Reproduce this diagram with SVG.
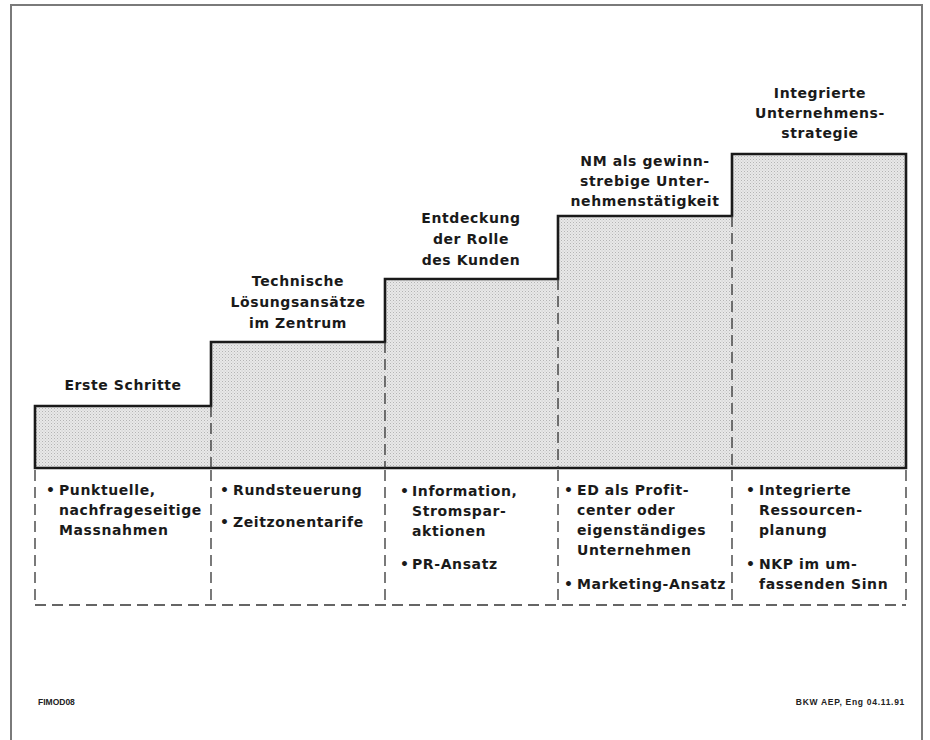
<svg xmlns="http://www.w3.org/2000/svg" width="930" height="740" viewBox="0 0 930 740">
<defs>
<pattern id="stipple" width="3" height="3" patternUnits="userSpaceOnUse">
<rect width="3" height="3" fill="#e8e8e8"/>
<rect x="0" y="0" width="1" height="1" fill="#b4b4b4"/>
<rect x="1.5" y="1.5" width="1" height="1" fill="#c4c4c4"/>
</pattern>
</defs>
<style>
.frame{fill:none;stroke:#7a7a7a;stroke-width:2}
.steps{fill:url(#stipple);stroke:#1a1a1a;stroke-width:2.6;stroke-linejoin:miter}
.dash{fill:none;stroke:#333;stroke-width:1.3;stroke-dasharray:11 6}
.t{font-family:"DejaVu Sans","Liberation Sans",sans-serif;font-weight:bold;font-size:14px;letter-spacing:0.6px;fill:#1a1a1a}
.title{text-anchor:middle}
.foot{font-family:"Liberation Sans","DejaVu Sans",sans-serif;font-weight:bold;font-size:8.5px;fill:#222}
</style>
<rect width="930" height="740" fill="#fff"/>
<path class="frame" d="M11,740 V5 H922 V740"/>

<g id="connectors">
<path class="steps" d="M35,468 V406 H211 V342 H385 V279 H558 V216 H732 V154 H906 V468 Z"/>
<path class="dash" d="M211,406 V468 M385,342 V468 M558,279 V468 M732,216 V468"/>
<path class="dash" d="M35,470 V605 M211,470 V605 M385,470 V605 M558,470 V605 M732,470 V605 M906,470 V605 M35,605 H906"/>
</g>

<g id="step1">
<text class="t title" x="123" y="390">Erste Schritte</text>
<text class="t"><tspan x="46" y="495">•</tspan><tspan x="59" y="495">Punktuelle,</tspan><tspan x="59" y="515">nachfrageseitige</tspan><tspan x="59" y="535">Massnahmen</tspan></text>
</g>

<g id="step2">
<text class="t title"><tspan x="298" y="286">Technische</tspan><tspan x="298" y="307">Lösungsansätze</tspan><tspan x="298" y="328">im Zentrum</tspan></text>
<text class="t"><tspan x="220" y="495">•</tspan><tspan x="233" y="495">Rundsteuerung</tspan><tspan x="220" y="527">•</tspan><tspan x="233" y="527">Zeitzonentarife</tspan></text>
</g>

<g id="step3">
<text class="t title"><tspan x="471" y="223">Entdeckung</tspan><tspan x="471" y="244">der Rolle</tspan><tspan x="471" y="265">des Kunden</tspan></text>
<text class="t"><tspan x="400" y="496">•</tspan><tspan x="412" y="496">Information,</tspan><tspan x="412" y="516">Stromspar-</tspan><tspan x="412" y="536">aktionen</tspan><tspan x="400" y="569">•</tspan><tspan x="412" y="569">PR-Ansatz</tspan></text>
</g>

<g id="step4">
<text class="t title"><tspan x="645" y="166">NM als gewinn-</tspan><tspan x="645" y="186">strebige Unter-</tspan><tspan x="645" y="206">nehmenstätigkeit</tspan></text>
<text class="t"><tspan x="564" y="495">•</tspan><tspan x="577" y="495">ED als Profit-</tspan><tspan x="577" y="515">center oder</tspan><tspan x="577" y="535">eigenständiges</tspan><tspan x="577" y="555">Unternehmen</tspan><tspan x="564" y="589">•</tspan><tspan x="577" y="589">Marketing-Ansatz</tspan></text>
</g>

<g id="step5">
<text class="t title"><tspan x="820" y="98">Integrierte</tspan><tspan x="820" y="118">Unternehmens-</tspan><tspan x="820" y="138">strategie</tspan></text>
<text class="t"><tspan x="746" y="495">•</tspan><tspan x="759" y="495">Integrierte</tspan><tspan x="759" y="515">Ressourcen-</tspan><tspan x="759" y="535">planung</tspan><tspan x="746" y="569">•</tspan><tspan x="759" y="569">NKP im um-</tspan><tspan x="759" y="589">fassenden Sinn</tspan></text>
</g>

<g id="footer">
<text class="foot" x="38" y="705">FIMOD08</text>
<text class="foot" x="905" y="705" text-anchor="end" letter-spacing="0.7">BKW AEP, Eng 04.11.91</text>
</g>
</svg>
